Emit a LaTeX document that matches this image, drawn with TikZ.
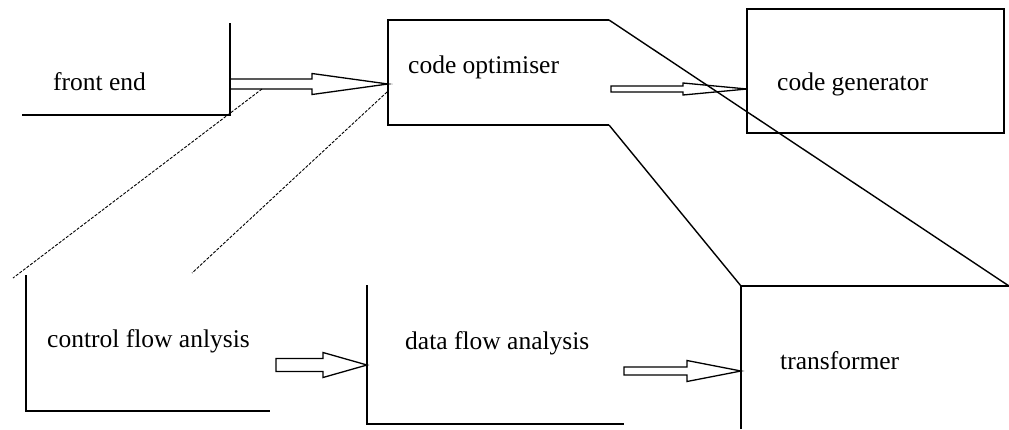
\documentclass[tikz,border=0pt]{standalone}
\usepackage{fontspec}
\setmainfont{Liberation Serif}
\usetikzlibrary{calc}
\newcommand{\fatarrow}[5]{% from, to, shaft half, head half, head length
  \draw[arrowline] let \p1=(#1), \p2=(#2) in
    (\x1,\y1+#3) -- (\x2-#5,\y1+#3) -- (\x2-#5,\y1+#4) -- (\x2,\y2)
    -- (\x2-#5,\y1-#4) -- (\x2-#5,\y1-#3) -- (\x1,\y1-#3) -- cycle;}
\tikzset{
  boxline/.style={line width=1.8pt},
  linkline/.style={line width=1.4pt},
  arrowline/.style={line width=1.3pt, line join=miter},
  dashline/.style={line width=0.9pt, dash pattern=on 3pt off 1.5pt},
  boxtext/.style={anchor=base west, inner sep=0pt, font=\fontsize{25.5}{30}\selectfont}
}

\begin{document}
\begin{tikzpicture}[x=1pt,y=-1pt]
\useasboundingbox (0,0) rectangle (1009,429);
% front end
\draw[boxline] (230,23) -- (230,115) -- (22,115);
\node[boxtext] (fe) at (53,90) {front end};
% code optimiser
\draw[boxline] (609,20) -- (388,20) -- (388,125) -- (609,125);
\node[boxtext] (co) at (408,73) {code optimiser};
% code generator
\draw[boxline] (747,9) rectangle (1004,133);
\node[boxtext] (cg) at (777,90) {code generator};
% control flow
\draw[boxline] (26,275) -- (26,411) -- (270,411);
\node[boxtext] (cf) at (47,347) {control flow anlysis};
% data flow
\draw[boxline] (367,285) -- (367,424) -- (624,424);
\node[boxtext] (df) at (405,349) {data flow analysis};
% transformer
\draw[boxline] (741,429) -- (741,286) -- (1009,286);
\node[boxtext] (tr) at (780,369) {transformer};

% arrow ends
\coordinate (fe-out) at (230,84);
\coordinate (co-in) at (388,84);
\coordinate (co-out) at (611,89);
\coordinate (cg-in) at (747,89);
\coordinate (cf-out) at (276,365);
\coordinate (df-in) at (367,365);
\coordinate (df-out) at (624,371);
\coordinate (tr-in) at (741,371);
\coordinate (co-ne) at (609,20);
\coordinate (co-se) at (609,125);
\coordinate (tr-nw) at (741,286);
\coordinate (tr-ne) at (1009,286);
\coordinate (fe-foot) at (262,89);
\coordinate (cf-top) at (13,278);
\coordinate (co-foot) at (387,92);
\coordinate (df-top) at (192,273);

\fatarrow{fe-out}{co-in}{5pt}{10.5pt}{76pt}
\fatarrow{co-out}{cg-in}{3pt}{6pt}{64pt}
\fatarrow{cf-out}{df-in}{6.5pt}{12.5pt}{44pt}
\fatarrow{df-out}{tr-in}{4pt}{10.5pt}{54pt}

\draw[linkline] (co-ne) -- (tr-ne);
\draw[linkline] (co-se) -- (tr-nw);
\draw[dashline] (fe-foot) -- (cf-top);
\draw[dashline] (co-foot) -- (df-top);
\end{tikzpicture}
\end{document}
